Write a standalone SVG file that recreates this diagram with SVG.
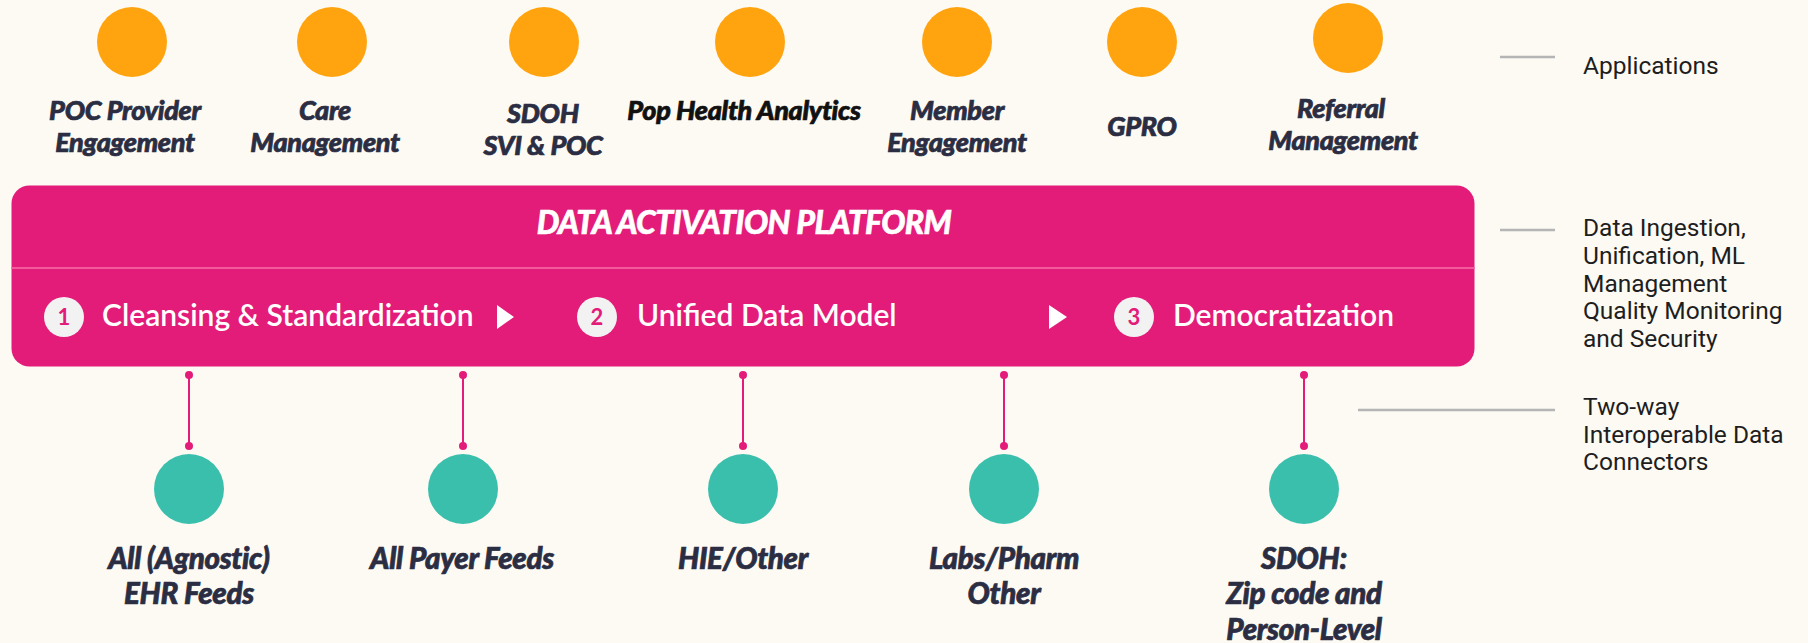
<svg xmlns="http://www.w3.org/2000/svg" width="1808" height="643" viewBox="0 0 1808 643">
<style>
.app{fill:#FFA30F}
.src{fill:#3BBFAD}
.lbl{font-family:Lato,"Open Sans","Liberation Sans",sans-serif;font-weight:900;font-style:italic;font-size:27px;fill:#2B2D42;stroke:#2B2D42;stroke-width:0.7;text-anchor:middle;letter-spacing:-0.3px}
.big{font-size:29.5px}
.leg{font-family:Roboto,Lato,"Liberation Sans",sans-serif;font-size:24.5px;fill:#1E1E1E}
.legline{stroke:#B5B5B5;stroke-width:2.5}
.step{font-family:Lato,"Open Sans","Liberation Sans",sans-serif;font-weight:600;font-size:30px;fill:#FFFFFF}
.num{font-family:Lato,"Open Sans","Liberation Sans",sans-serif;font-weight:700;font-size:22px;fill:#E31C79;text-anchor:middle}
.numc{fill:#F2F2F2}
.conn{stroke:#E31C79;stroke-width:2}
.dot{fill:#E31C79}
</style>
<rect width="1808" height="643" fill="#FDFAF3"/>

<g id="app-poc">
<circle class="app" cx="132" cy="42" r="35"/>
<text class="lbl" x="125" y="120">POC Provider</text>
<text class="lbl" x="125" y="152">Engagement</text>
</g>
<g id="app-care">
<circle class="app" cx="332" cy="42" r="35"/>
<text class="lbl" x="325" y="120">Care</text>
<text class="lbl" x="325" y="152">Management</text>
</g>
<g id="app-sdoh">
<circle class="app" cx="544" cy="42" r="35"/>
<text class="lbl" x="543" y="123">SDOH</text>
<text class="lbl" x="543" y="155">SVI &amp; POC</text>
</g>
<g id="app-pop">
<circle class="app" cx="750" cy="42" r="35"/>
<text class="lbl" x="744" y="120" style="fill:#111111;stroke:#111111">Pop Health Analytics</text>
</g>
<g id="app-member">
<circle class="app" cx="957" cy="42" r="35"/>
<text class="lbl" x="957" y="120">Member</text>
<text class="lbl" x="957" y="152">Engagement</text>
</g>
<g id="app-gpro">
<circle class="app" cx="1142" cy="42" r="35"/>
<text class="lbl" x="1142" y="136">GPRO</text>
</g>
<g id="app-referral">
<circle class="app" cx="1348" cy="38" r="35"/>
<text class="lbl" x="1341" y="118">Referral</text>
<text class="lbl" x="1343" y="150">Management</text>
</g>

<g id="platform">
<rect x="11.5" y="185.5" width="1463" height="181" rx="18" fill="#E31C79"/>
<line x1="11.5" y1="268" x2="1474.5" y2="268" stroke="#F25A9B" stroke-width="2"/>
<text x="744" y="234" text-anchor="middle" style="font-family:Lato,'Open Sans','Liberation Sans',sans-serif;font-weight:900;font-style:italic;font-size:32px;fill:#FFFFFF;stroke:#FFFFFF;stroke-width:0.6;letter-spacing:-0.6px">DATA ACTIVATION PLATFORM</text>
<g id="step1">
<circle class="numc" cx="64" cy="317" r="20"/>
<text class="num" x="64" y="325">1</text>
<text class="step" x="102" y="326">Cleansing &amp; Standardization</text>
</g>
<polygon points="497,305 514,317 497,329" fill="#FFFFFF"/>
<g id="step2">
<circle class="numc" cx="597" cy="317" r="20"/>
<text class="num" x="597" y="325">2</text>
<text class="step" x="637" y="326">Unified Data Model</text>
</g>
<polygon points="1049,305 1067,317 1049,329" fill="#FFFFFF"/>
<g id="step3">
<circle class="numc" cx="1134" cy="317" r="20"/>
<text class="num" x="1134" y="325">3</text>
<text class="step" x="1173" y="326">Democratization</text>
</g>
</g>

<g id="connectors">
<line class="conn" x1="189" y1="375" x2="189" y2="446"/>
<circle class="dot" cx="189" cy="375" r="4"/><circle class="dot" cx="189" cy="446" r="4"/>
<line class="conn" x1="463" y1="375" x2="463" y2="446"/>
<circle class="dot" cx="463" cy="375" r="4"/><circle class="dot" cx="463" cy="446" r="4"/>
<line class="conn" x1="743" y1="375" x2="743" y2="446"/>
<circle class="dot" cx="743" cy="375" r="4"/><circle class="dot" cx="743" cy="446" r="4"/>
<line class="conn" x1="1004" y1="375" x2="1004" y2="446"/>
<circle class="dot" cx="1004" cy="375" r="4"/><circle class="dot" cx="1004" cy="446" r="4"/>
<line class="conn" x1="1304" y1="375" x2="1304" y2="446"/>
<circle class="dot" cx="1304" cy="375" r="4"/><circle class="dot" cx="1304" cy="446" r="4"/>
</g>

<g id="src-ehr">
<circle class="src" cx="189" cy="489" r="35"/>
<text class="lbl big" x="189" y="569">All (Agnostic)</text>
<text class="lbl big" x="189" y="604">EHR Feeds</text>
</g>
<g id="src-payer">
<circle class="src" cx="463" cy="489" r="35"/>
<text class="lbl big" x="462" y="569">All Payer Feeds</text>
</g>
<g id="src-hie">
<circle class="src" cx="743" cy="489" r="35"/>
<text class="lbl big" x="743" y="569">HIE/Other</text>
</g>
<g id="src-labs">
<circle class="src" cx="1004" cy="489" r="35"/>
<text class="lbl big" x="1004" y="569">Labs/Pharm</text>
<text class="lbl big" x="1004" y="604">Other</text>
</g>
<g id="src-sdoh">
<circle class="src" cx="1304" cy="489" r="35"/>
<text class="lbl big" x="1304" y="569">SDOH:</text>
<text class="lbl big" x="1304" y="604">Zip code and</text>
<text class="lbl big" x="1304" y="640">Person-Level</text>
</g>

<g id="legend">
<line class="legline" x1="1500" y1="57" x2="1555" y2="57"/>
<text class="leg" x="1583" y="74">Applications</text>
<line class="legline" x1="1500" y1="230" x2="1555" y2="230"/>
<text class="leg" x="1583" y="236">Data Ingestion,</text>
<text class="leg" x="1583" y="264">Unification, ML</text>
<text class="leg" x="1583" y="292">Management</text>
<text class="leg" x="1583" y="319">Quality Monitoring</text>
<text class="leg" x="1583" y="347">and Security</text>
<line class="legline" x1="1358" y1="410" x2="1555" y2="410"/>
<text class="leg" x="1583" y="415">Two-way</text>
<text class="leg" x="1583" y="443">Interoperable Data</text>
<text class="leg" x="1583" y="470">Connectors</text>
</g>
</svg>
